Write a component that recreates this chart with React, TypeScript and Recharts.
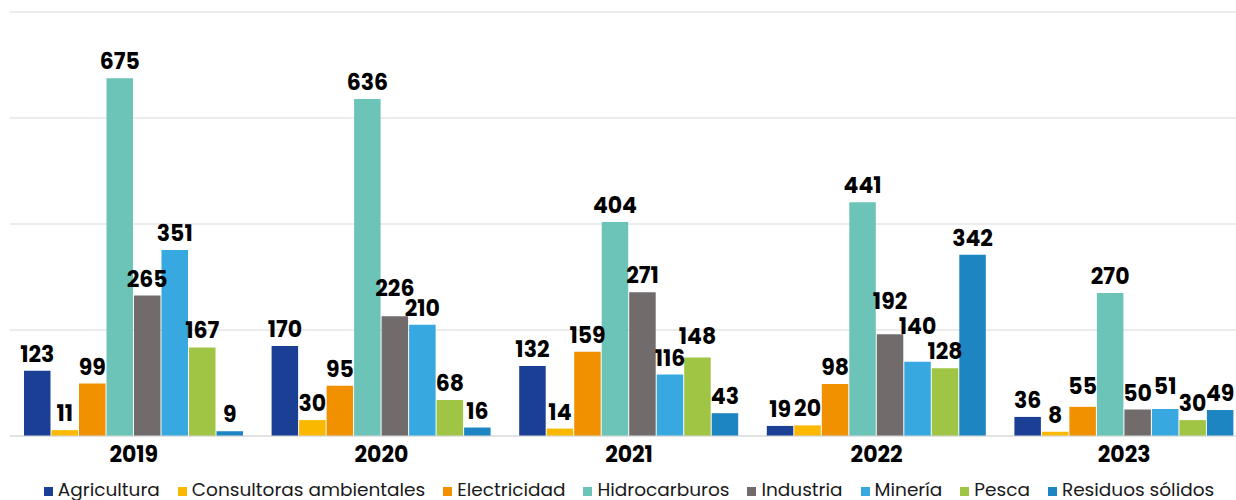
import { BarChart, Bar, XAxis, YAxis, CartesianGrid, Legend, LabelList } from 'recharts'

const years = ['2019', '2020', '2021', '2022', '2023']

const agricultura = [123, 170, 132, 19, 36]
const consultoras = [11, 30, 14, 20, 8]
const electricidad = [99, 95, 159, 98, 55]
const hidrocarburos = [675, 636, 404, 441, 270]
const industria = [265, 226, 271, 192, 50]
const mineria = [351, 210, 116, 140, 51]
const pesca = [167, 68, 148, 128, 30]
const residuos = [9, 16, 43, 342, 49]

const yTicks = [0, 200, 400, 600, 800]

const series = [
  { key: 'agricultura', name: 'Agricultura', values: agricultura, color: '#1a3f95' },
  { key: 'consultoras', name: 'Consultoras ambientales', values: consultoras, color: '#fbb800' },
  { key: 'electricidad', name: 'Electricidad', values: electricidad, color: '#f29100' },
  { key: 'hidrocarburos', name: 'Hidrocarburos', values: hidrocarburos, color: '#6cc3b8' },
  { key: 'industria', name: 'Industria', values: industria, color: '#716c6b' },
  { key: 'mineria', name: 'Minería', values: mineria, color: '#38a9e0' },
  { key: 'pesca', name: 'Pesca', values: pesca, color: '#a0c545' },
  { key: 'residuos', name: 'Residuos sólidos', values: residuos, color: '#1e85c3' },
]

// labels that were nudged upward in the original to avoid overlapping
const labelLift: Record<string, number> = {
  'industria-2020': 11,
  'pesca-2021': 5,
  'industria-2022': 16,
  'mineria-2022': 19,
  'electricidad-2023': 4,
  'mineria-2023': 6,
}

const data = years.map((year, i) => {
  const row: Record<string, string | number> = { year }
  series.forEach(s => {
    row[s.key] = s.values[i]
  })
  return row
})

const FONT = 'Poppins, "Open Sans", sans-serif'

function makeLabel(key: string) {
  return (props: any) => {
    const { x, y, width, value, index } = props
    const lift = labelLift[`${key}-${years[index]}`] || 0
    return (
      <text
        x={Number(x) + Number(width) / 2}
        y={Number(y) - 9 - lift}
        textAnchor="middle"
        fill="#000"
        style={{ fontSize: 22, fontWeight: 700, fontFamily: FONT }}
      >
        {value}
      </text>
    )
  }
}

function LegendContent() {
  return (
    <div
      style={{
        display: 'flex',
        justifyContent: 'center',
        alignItems: 'center',
        gap: 18,
        height: 24,
        lineHeight: '24px',
        paddingTop: 2,
        fontFamily: FONT,
        fontSize: 18.5,
        color: '#1a1a1a',
        whiteSpace: 'nowrap',
      }}
    >
      {series.map(s => (
        <span key={s.key} style={{ display: 'inline-flex', alignItems: 'center' }}>
          <span
            style={{ width: 9, height: 9, background: s.color, marginRight: 5, marginTop: 3, display: 'inline-block' }}
          />
          {s.name}
        </span>
      ))}
    </div>
  )
}

export default function App() {
  return (
    <div
      style={{
        position: 'fixed',
        left: 0,
        top: 0,
        width: 1236,
        height: 500,
        overflow: 'hidden',
        background: '#fff',
      }}
    >
      <BarChart
        width={1258}
        height={500}
        data={data}
        margin={{ top: 12, right: 10, left: 10, bottom: 0 }}
        barGap={1}
        barSize={26.5}
      >
        <CartesianGrid vertical={false} stroke="#d9d9d9" />
        <XAxis
          dataKey="year"
          height={40}
          tickLine={false}
          tickSize={6}
          tickMargin={4}
          axisLine={{ stroke: '#d9d9d9' }}
          tick={{ fill: '#000', fontSize: 22, fontWeight: 700, fontFamily: FONT }}
        />
        <YAxis hide domain={[0, 800]} ticks={yTicks} />
        <Legend verticalAlign="bottom" height={24} content={() => <LegendContent />} />
        {series.map(s => (
          <Bar key={s.key} dataKey={s.key} name={s.name} fill={s.color} isAnimationActive={false}>
            <LabelList dataKey={s.key} content={makeLabel(s.key)} />
          </Bar>
        ))}
      </BarChart>
    </div>
  )
}
